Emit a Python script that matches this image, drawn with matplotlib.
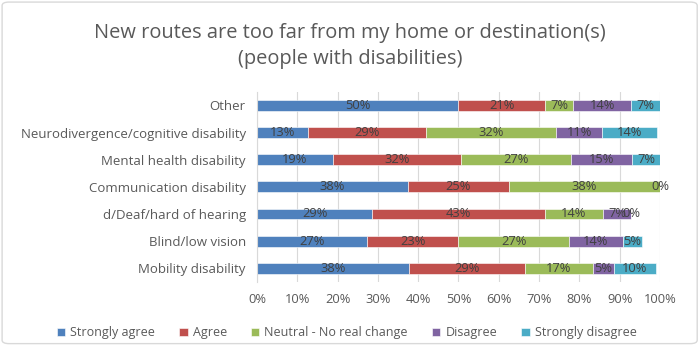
import matplotlib.pyplot as plt
from matplotlib.patches import FancyBboxPatch

categories = ["Other", "Neurodivergence/cognitive disability", "Mental health disability",
              "Communication disability", "d/Deaf/hard of hearing", "Blind/low vision",
              "Mobility disability"]
series = ["Strongly agree", "Agree", "Neutral - No real change", "Disagree", "Strongly disagree"]
strongly_agree = [50.0, 12.6, 18.8, 37.5, 28.6, 27.3, 37.8]
agree = [21.4, 29.3, 31.8, 25.0, 42.9, 22.7, 28.6]
neutral = [7.1, 32.4, 27.2, 37.5, 14.3, 27.3, 17.0]
disagree = [14.3, 11.2, 15.3, 0.0, 7.1, 13.6, 5.1]
strongly_disagree = [7.1, 13.7, 6.9, 0.0, 0.0, 4.6, 10.5]
colors = ["#4F81BD", "#C0504D", "#9BBB59", "#8064A2", "#4BACC6"]

plt.rcParams['font.family'] = ['Open Sans', 'DejaVu Sans']
text_col = "#595959"

fig = plt.figure(figsize=(7, 3.45), dpi=100)
ax = fig.add_axes([0.367, 0.183, 0.576, 0.551])

values = [strongly_agree, agree, neutral, disagree, strongly_disagree]
ypos = list(range(len(categories)))
left = [0.0] * len(categories)
prev = [None] * len(categories)
for name, vals, c in zip(series, values, colors):
    ax.barh(ypos, vals, left=left, height=0.4, color=c, edgecolor="white", linewidth=0.4, label=name)
    for i, (y, l, v) in enumerate(zip(ypos, left, vals)):
        # two empty segments at the same spot only get one label
        if v == 0 and prev[i] == 0:
            continue
        ax.text(l + v / 2, y, f"{round(v)}%", ha="center", va="center", fontsize=9.3, color="#404040")
    prev = list(vals)
    left = [a + b for a, b in zip(left, vals)]

ax.set_xlim(0, 100)
ax.set_ylim(len(categories) - 0.5, -0.5)
ax.set_yticks(ypos)
ax.set_yticklabels(categories, fontsize=9.5, color=text_col)
ax.set_xticks(range(0, 101, 10))
ax.set_xticklabels([f"{t}%" for t in range(0, 101, 10)], fontsize=9.3, color=text_col)
ax.tick_params(length=0, pad=8)
ax.grid(axis="x", color="#D9D9D9", linewidth=0.8)
ax.set_axisbelow(True)
for s in ["top", "right", "bottom"]:
    ax.spines[s].set_visible(False)
ax.spines["left"].set_color("#D9D9D9")

fig.text(0.5, 0.905, "New routes are too far from my home or destination(s)", ha="center",
         va="center", fontsize=14.4, color=text_col)
fig.text(0.5, 0.83, "(people with disabilities)", ha="center", va="center", fontsize=14.4, color=text_col)

fig.legend(loc="center", bbox_to_anchor=(0.495, 0.035), ncol=5, frameon=False, fontsize=9,
           handlelength=0.7, handleheight=0.7, columnspacing=1.9, handletextpad=0.4,
           labelcolor=text_col)

border = FancyBboxPatch((0.003, 0.004), 0.993, 0.99, boxstyle="round,pad=0,rounding_size=0.01",
                        transform=fig.transFigure, fill=False, edgecolor="#D9D9D9", linewidth=1)
fig.patches.append(border)

fig.savefig("out.png", dpi=100)
